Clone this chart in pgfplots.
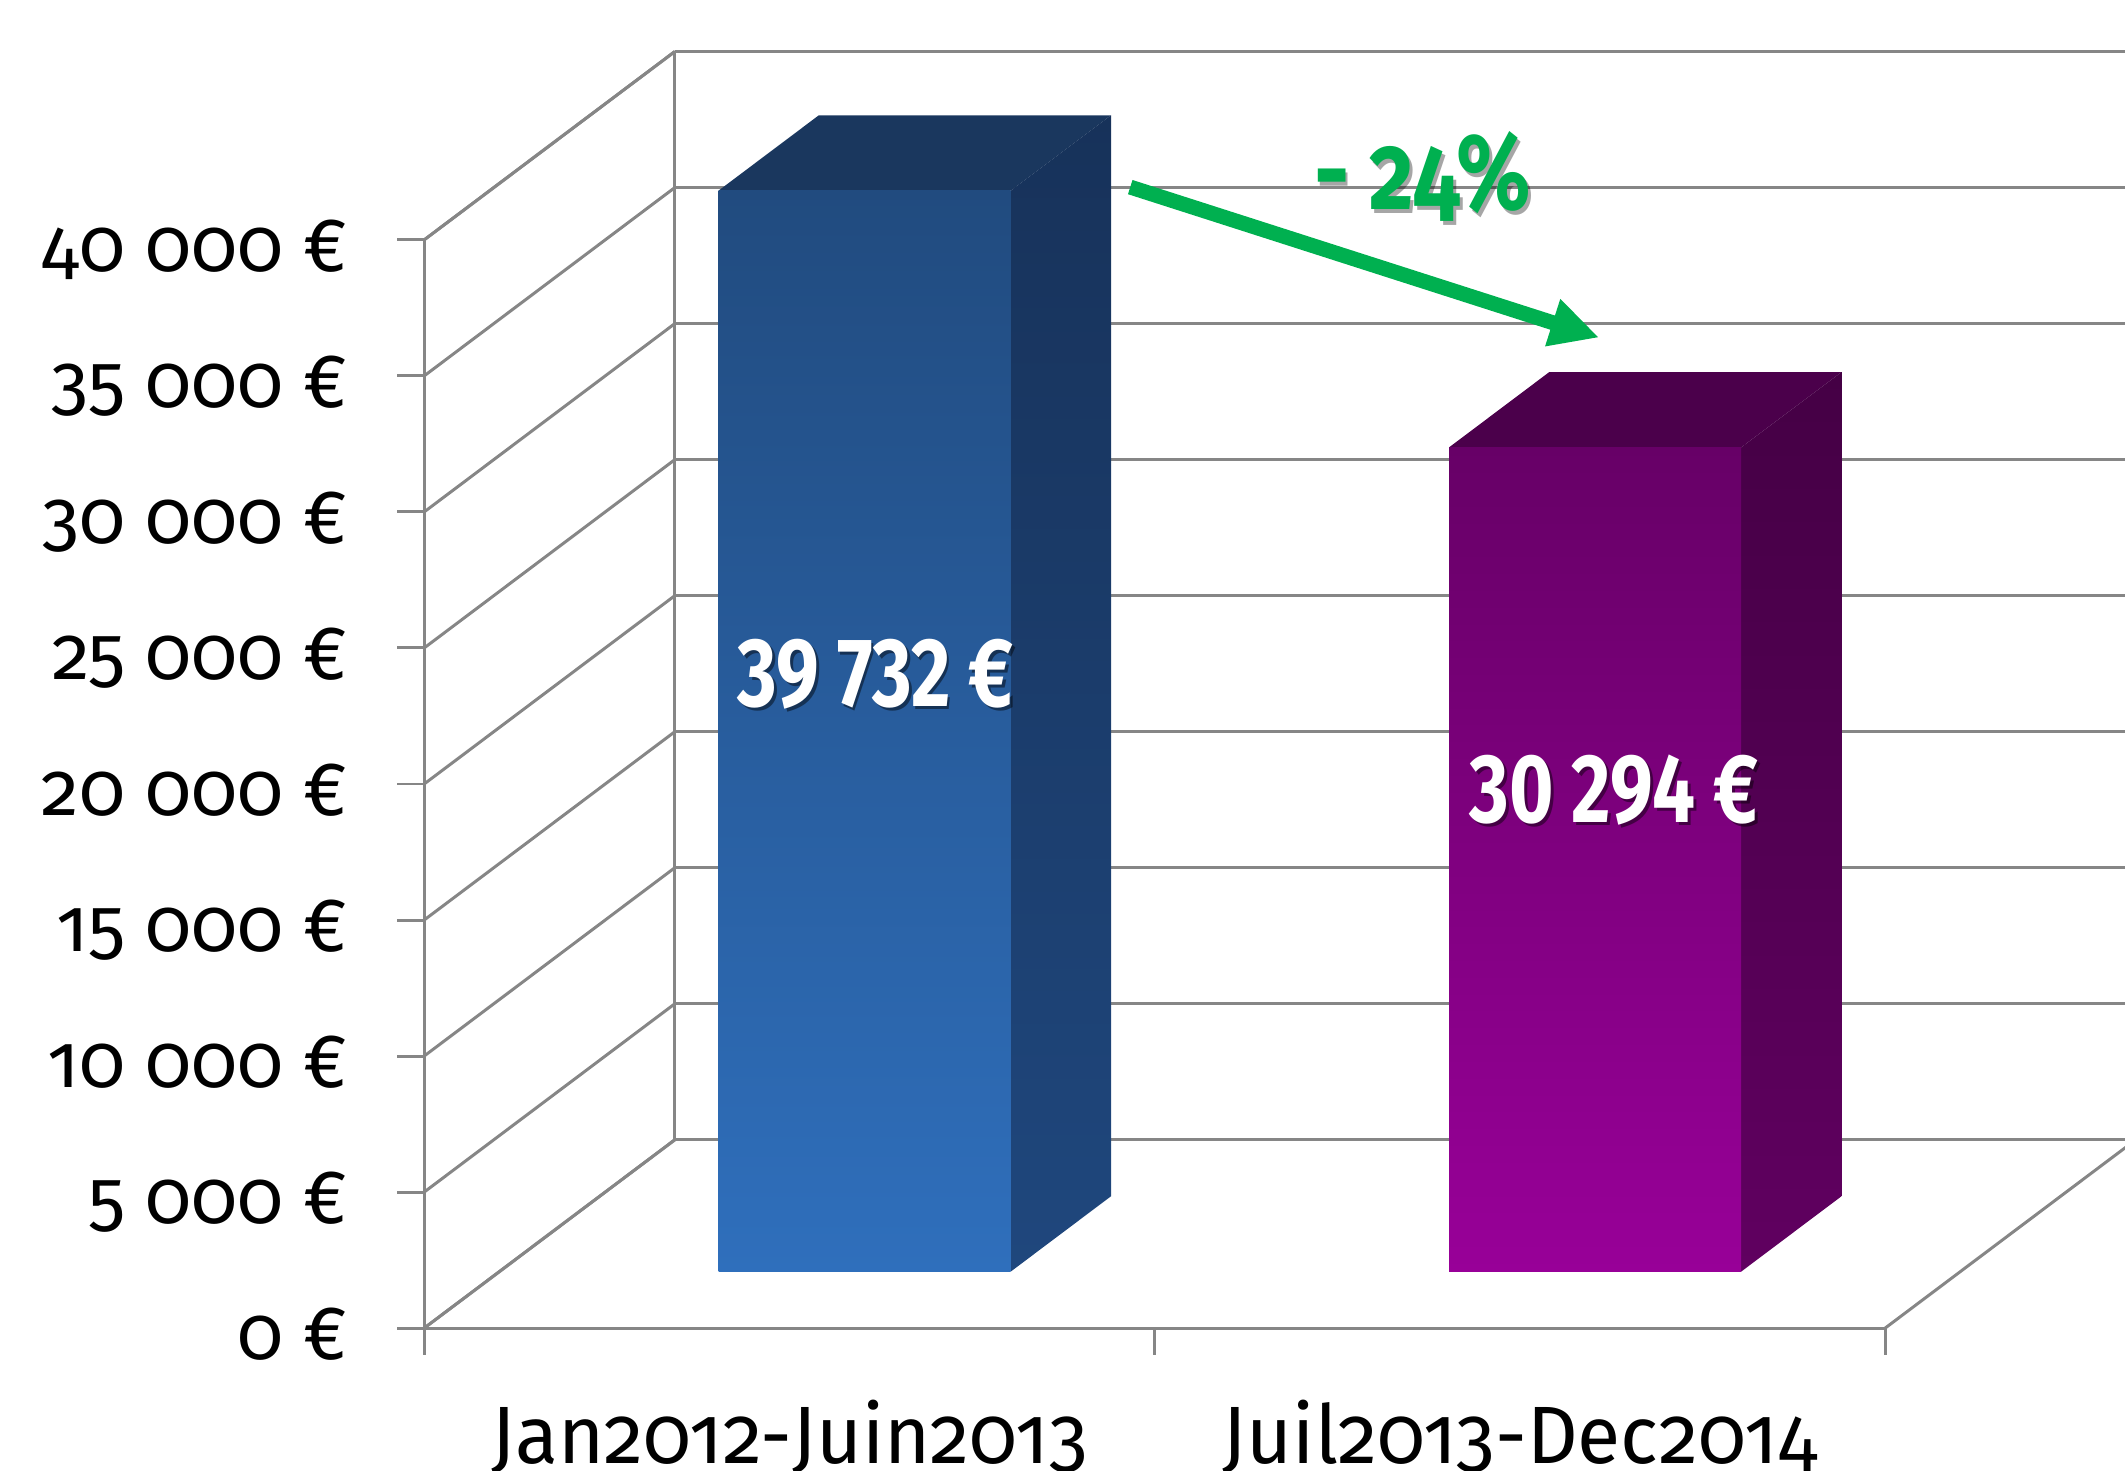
\documentclass[border=0pt]{standalone}
\usepackage{pgfplots}
\pgfplotsset{compat=1.18}
\usepackage{pgfplotstable}
\usepackage{fontspec}
\setmainfont{Fira Sans}[Numbers=OldStyle]
\newfontfamily\barfont{Fira Sans}[Numbers=Lining,FakeStretch=0.78]
\newfontfamily\pctfont{Fira Sans}[Numbers=OldStyle,FakeStretch=0.8]
\newfontfamily\catfont{Fira Sans}[Numbers=OldStyle,FakeStretch=0.97]
\usetikzlibrary{arrows.meta}

\definecolor{gridgray}{HTML}{868686}
\definecolor{bFrontTop}{HTML}{214B7F}
\definecolor{bFrontBot}{HTML}{2F6FBC}
\definecolor{bSideTop}{HTML}{17325A}
\definecolor{bSideBot}{HTML}{1F477D}
\definecolor{bTopFace}{HTML}{1A375E}
\definecolor{pFrontTop}{HTML}{670067}
\definecolor{pFrontBot}{HTML}{980098}
\definecolor{pSideTop}{HTML}{450045}
\definecolor{pSideBot}{HTML}{600060}
\definecolor{pTopFace}{HTML}{4B004B}
\definecolor{arrowgreen}{HTML}{00B050}

\pgfplotstableread{
pos value
0.5 39732
1.5 30294
}\datatable

\begin{document}
\begin{tikzpicture}
\pgfplotstablegetelem{0}{value}\of\datatable \edef\va{\fpeval{\pgfplotsretval/1000}}
\pgfplotstablegetelem{1}{value}\of\datatable \edef\vb{\fpeval{\pgfplotsretval/1000}}
\begin{axis}[
  x={(134.75pt,0pt)}, y={(46.25pt,34.75pt)}, z={(0pt,5.01875pt)},
  xmin=0,xmax=2,ymin=0,ymax=1,zmin=0,zmax=40,
  clip=false,
  axis line style={gridgray, line width=0.55pt},
  xtick=\empty,
  ytick=\empty,
  ztick={0,5,...,40},
  zticklabel style={opacity=0},
  zmajorgrids,
  major grid style={gridgray, line width=0.55pt},
  major tick length=0pt,
  tick style={draw=none},
]
% tick marks
\pgfplotsinvokeforeach{0,5,...,40}{\draw[gridgray, line width=0.55pt] (axis cs:0,0,#1) -- ++(-5pt,0pt);}
\pgfplotsinvokeforeach{0,1,2}{\draw[gridgray, line width=0.55pt] (axis cs:#1,0,0) -- ++(0pt,-5pt);}
% tick labels
\node[anchor=base east, inner sep=0pt, xshift=-14pt, yshift=-5.75pt, font=\fontsize{14}{16}\selectfont] at (axis cs:0,0,0) {0~€};
\pgfplotsinvokeforeach{5,10,...,40}{\node[anchor=base east, inner sep=0pt, xshift=-14pt, yshift=-5.75pt, font=\fontsize{14}{16}\selectfont] at (axis cs:0,0,#1) {#1~000~€};}
\node[anchor=base, yshift=-25pt, font=\catfont\fontsize{15}{17}\selectfont] at (axis cs:0.5,0,0) {Jan2012-Juin2013};
\node[anchor=base, yshift=-25pt, font=\catfont\fontsize{15}{17}\selectfont] at (axis cs:1.5,0,0) {Juil2013-Dec2014};
% bar 1
\addplot3[draw=none, fill=bTopFace] coordinates {(0.3,0.3,\va) (0.7,0.3,\va) (0.7,0.7,\va) (0.3,0.7,\va)};
\addplot3[draw=none, top color=bSideTop, bottom color=bSideBot] coordinates {(0.7,0.3,0) (0.7,0.7,0) (0.7,0.7,\va) (0.7,0.3,\va)};
\addplot3[draw=none, top color=bFrontTop, bottom color=bFrontBot] coordinates {(0.3,0.3,0) (0.7,0.3,0) (0.7,0.3,\va) (0.3,0.3,\va)};
% bar 2
\addplot3[draw=none, fill=pTopFace] coordinates {(1.3,0.3,\vb) (1.7,0.3,\vb) (1.7,0.7,\vb) (1.3,0.7,\vb)};
\addplot3[draw=none, top color=pSideTop, bottom color=pSideBot] coordinates {(1.7,0.3,0) (1.7,0.7,0) (1.7,0.7,\vb) (1.7,0.3,\vb)};
\addplot3[draw=none, top color=pFrontTop, bottom color=pFrontBot] coordinates {(1.3,0.3,0) (1.7,0.3,0) (1.7,0.3,\vb) (1.3,0.3,\vb)};
% value labels
\node[anchor=base, text=black, opacity=0.45] at ([shift={(0.5pt,-0.6pt)}]axis cs:0.618,0,22.86) {\barfont\bfseries\fontsize{18}{20}\selectfont 39~732~€};
\node[anchor=base, text=white] at (axis cs:0.618,0,22.86) {\barfont\bfseries\fontsize{18}{20}\selectfont 39~732~€};
\node[anchor=base, text=black, opacity=0.45] at ([shift={(0.5pt,-0.6pt)}]axis cs:1.629,0,18.58) {\barfont\bfseries\fontsize{18}{20}\selectfont 30~294~€};
\node[anchor=base, text=white] at (axis cs:1.629,0,18.58) {\barfont\bfseries\fontsize{18}{20}\selectfont 30~294~€};
% arrow
\draw[arrowgreen, line width=2.75pt, -{Triangle[length=9pt,width=8.5pt]}] (axis cs:0.9666,0,41.94) -- (axis cs:1.6085,0,36.41);
\node[anchor=base, text=black, opacity=0.35] at ([shift={(0.5pt,-0.6pt)}]axis cs:1.367,0,41.1) {\pctfont\bfseries\fontsize{20}{22}\selectfont -~24\%};
\node[anchor=base, text=arrowgreen] at (axis cs:1.367,0,41.1) {\pctfont\bfseries\fontsize{20}{22}\selectfont -~24\%};
\coordinate (O) at (axis cs:0,0,0);
\end{axis}
\pgfresetboundingbox
\path[use as bounding box] (O) ++(-78.25pt,-26.25pt) rectangle ++(392pt,271.25pt);
\end{tikzpicture}
\end{document}
